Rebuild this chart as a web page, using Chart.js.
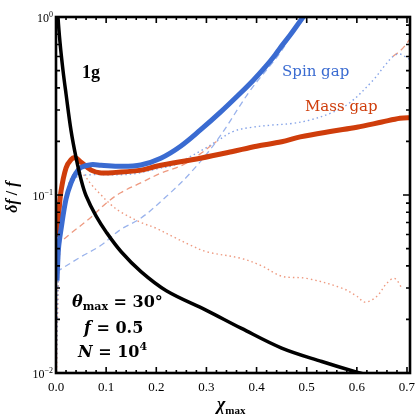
<!DOCTYPE html>
<html>
<head>
<meta charset="utf-8">
<script src="https://cdn.jsdelivr.net/npm/chart.js@4.4.0/dist/chart.umd.min.js"></script>
<style>
  html, body { margin: 0; padding: 0; background: #fff; }
</style>
</head>
<body>
<canvas id="chart" width="415" height="420"></canvas>
<script>
// tick values
const xTickValues = [0, 0.1, 0.2, 0.3, 0.4, 0.5, 0.6, 0.7];
const yTickValues = [1, 0.1, 0.01];

// black curve (no gap)
const blackX = [0.003, 0.004, 0.008, 0.014, 0.02, 0.03, 0.04, 0.05, 0.06, 0.08, 0.1, 0.13, 0.17, 0.22, 0.3, 0.37, 0.45, 0.53, 0.6, 0.63];
const blackY = [1.25, 1.0, 0.72, 0.5, 0.37, 0.23, 0.162, 0.122, 0.099, 0.076, 0.062, 0.048, 0.037, 0.029, 0.0225, 0.0178, 0.0138, 0.0116, 0.0101, 0.0096];

// spin gap
const spinX = [0.002, 0.005, 0.01, 0.02, 0.03, 0.04, 0.05, 0.07, 0.09, 0.13, 0.169, 0.209, 0.2485, 0.288, 0.328, 0.368, 0.394, 0.4175, 0.437, 0.447, 0.467, 0.493, 0.507];
const spinY = [0.033, 0.05, 0.064, 0.095, 0.117, 0.133, 0.143, 0.148, 0.147, 0.145, 0.1475, 0.161, 0.188, 0.232, 0.292, 0.374, 0.443, 0.524, 0.612, 0.67, 0.792, 1.0, 1.12];
const spinDashX = [0.001, 0.05, 0.089, 0.129, 0.169, 0.22, 0.268, 0.322, 0.388, 0.447, 0.48, 0.5];
const spinDashY = [0.037, 0.045, 0.052, 0.064, 0.074, 0.098, 0.133, 0.204, 0.389, 0.63, 0.9, 1.1];
const spinDotX = [0.001, 0.005, 0.01, 0.02, 0.04, 0.07, 0.1, 0.13, 0.16, 0.2, 0.235, 0.26, 0.29, 0.32, 0.354, 0.39, 0.43, 0.47, 0.507, 0.55, 0.586, 0.632, 0.655, 0.672, 0.685, 0.7, 0.71];
const spinDotY = [0.012, 0.04, 0.065, 0.095, 0.125, 0.13, 0.13, 0.13, 0.132, 0.14, 0.147, 0.16, 0.178, 0.2, 0.228, 0.24, 0.247, 0.252, 0.264, 0.29, 0.33, 0.44, 0.53, 0.6, 0.62, 0.59, 0.57];

// mass gap
const massX = [0.002, 0.005, 0.01, 0.02, 0.03, 0.038, 0.05, 0.07, 0.09, 0.12, 0.17, 0.2, 0.288, 0.35, 0.4, 0.45, 0.487, 0.55, 0.6, 0.65, 0.686, 0.71];
const massY = [0.058, 0.075, 0.105, 0.142, 0.158, 0.162, 0.153, 0.138, 0.133, 0.134, 0.138, 0.145, 0.161, 0.175, 0.188, 0.199, 0.212, 0.228, 0.24, 0.257, 0.27, 0.272];
const massDashX = [0.001, 0.03, 0.07, 0.1, 0.129, 0.169, 0.21, 0.254, 0.29, 0.32, 0.354, 0.39, 0.43, 0.47, 0.507, 0.55, 0.586, 0.632, 0.655, 0.672, 0.685, 0.696, 0.71];
const massDashY = [0.052, 0.061, 0.075, 0.09, 0.103, 0.117, 0.133, 0.148, 0.172, 0.2, 0.228, 0.24, 0.247, 0.252, 0.264, 0.29, 0.33, 0.44, 0.53, 0.6, 0.64, 0.69, 0.78];
const massDotX = [0.001, 0.003, 0.006, 0.012, 0.02, 0.03, 0.042, 0.055, 0.07, 0.09, 0.11, 0.13, 0.17, 0.2, 0.235, 0.27, 0.3, 0.37, 0.41, 0.45, 0.5, 0.57, 0.6, 0.616, 0.64, 0.66, 0.675, 0.69];
const massDotY = [0.009, 0.02, 0.04, 0.07, 0.1, 0.125, 0.135, 0.13, 0.115, 0.1, 0.088, 0.08, 0.07, 0.065, 0.058, 0.052, 0.048, 0.044, 0.04, 0.035, 0.034, 0.03, 0.027, 0.025, 0.027, 0.032, 0.034, 0.03];

const blue = '#3a6bd1';
const red = '#cf3d0b';
const lightBlue = '#86a4e8';
const lightRed = '#ee9a80';

function pts(xs, ys) {
  return xs.map((x, i) => ({ x, y: ys[i] }));
}

function line(data, color, width, dash) {
  return {
    data,
    borderColor: color,
    borderWidth: width,
    borderDash: dash || [],
    borderCapStyle: 'butt',
    pointRadius: 0,
    tension: 0.35,
    clip: 0,
    fill: false,
  };
}

function drawRuns(ctx, x, y, runs) {
  let cx = x;
  for (const r of runs) {
    ctx.font = r.font;
    ctx.fillText(r.t, cx, y + (r.dy || 0));
    cx += ctx.measureText(r.t).width + (r.gap || 0);
  }
}

const serif = '"Liberation Serif", "DejaVu Serif", serif';
const dserif = '"DejaVu Serif", serif';

const framePlugin = {
  id: 'frame',
  afterDatasetsDraw(chart) {
    const ctx = chart.ctx;
    const a = chart.chartArea;
    const xs = chart.scales.x;
    const ys = chart.scales.y;
    ctx.save();
    ctx.strokeStyle = '#000';
    ctx.fillStyle = '#000';

    // ticks, inward on all sides
    ctx.lineWidth = 1.6;
    ctx.beginPath();
    for (let i = 0; i <= 35; i++) {
      const v = i * 0.02;
      const px = xs.getPixelForValue(v);
      const len = i % 5 === 0 ? 6 : 3;
      ctx.moveTo(px, a.bottom); ctx.lineTo(px, a.bottom - len);
      ctx.moveTo(px, a.top); ctx.lineTo(px, a.top + len);
    }
    for (const dec of [0.01, 0.1]) {
      for (let m = 1; m <= 10; m++) {
        const py = ys.getPixelForValue(dec * m);
        const len = (m === 1 || m === 10) ? 7 : 4;
        ctx.moveTo(a.left, py); ctx.lineTo(a.left + len, py);
        ctx.moveTo(a.right, py); ctx.lineTo(a.right - len, py);
      }
    }
    ctx.stroke();

    // frame
    ctx.lineWidth = 2.6;
    ctx.strokeRect(a.left, a.top, a.right - a.left, a.bottom - a.top);

    // x tick labels
    ctx.font = '13px ' + serif;
    ctx.textAlign = 'center';
    ctx.textBaseline = 'alphabetic';
    xTickValues.forEach(v => {
      ctx.fillText(v.toFixed(1), xs.getPixelForValue(v), 391);
    });

    // y tick labels
    ctx.textAlign = 'left';
    yTickValues.forEach(v => {
      const py = ys.getPixelForValue(v);
      const e = Math.round(Math.log10(v));
      const exp = e === 0 ? '0' : '\u2212' + Math.abs(e);
      ctx.font = '12px ' + serif;
      const w1 = ctx.measureText('10').width;
      ctx.font = '8px ' + serif;
      const w2 = ctx.measureText(exp).width;
      const x0 = 53 - w1 - w2;
      ctx.font = '12px ' + serif;
      ctx.fillText('10', x0, py + 5);
      ctx.font = '8px ' + serif;
      ctx.fillText(exp, x0 + w1, py);
    });

    // axis titles
    ctx.save();
    ctx.translate(17, 197);
    ctx.rotate(-Math.PI / 2);
    const bi = 'bold italic 16px ' + serif;
    const b = 'bold 16px ' + serif;
    ctx.font = bi;
    const tw = ctx.measureText('\u03b4f').width + ctx.measureText('f').width;
    ctx.font = b;
    const sw = ctx.measureText(' / ').width;
    drawRuns(ctx, -(tw + sw) / 2, 0, [
      { t: '\u03b4f', font: bi },
      { t: ' / ', font: b },
      { t: 'f', font: bi },
    ]);
    ctx.restore();

    drawRuns(ctx, 217, 410, [
      { t: '\u03c7', font: 'bold italic 18px ' + serif },
      { t: 'max', font: 'bold 11px ' + serif, dy: 4 },
    ]);

    // annotations
    ctx.font = 'bold 18px ' + serif;
    ctx.fillText('1g', 82, 78);

    ctx.fillStyle = blue;
    ctx.font = '15px ' + dserif;
    ctx.fillText('Spin gap', 282, 76);
    ctx.fillStyle = red;
    ctx.fillText('Mass gap', 305, 111);

    ctx.fillStyle = '#000';
    drawRuns(ctx, 72, 307, [
      { t: '\u03b8', font: 'bold italic 16px ' + dserif },
      { t: 'max', font: 'bold 11px ' + dserif, dy: 3 },
      { t: ' = 30\u00b0', font: 'bold 16px ' + dserif },
    ]);
    drawRuns(ctx, 84, 333, [
      { t: 'f', font: 'bold italic 16px ' + dserif },
      { t: ' = 0.5', font: 'bold 16px ' + dserif },
    ]);
    drawRuns(ctx, 78, 357, [
      { t: 'N', font: 'bold italic 16px ' + dserif },
      { t: ' = 10', font: 'bold 16px ' + dserif },
      { t: '4', font: 'bold 11px ' + dserif, dy: -7 },
    ]);
    ctx.restore();
  },
};

// the stretch of the mass-gap dashed curve that lies under the spin-gap dotted one
const massDash = line(pts(massDashX, massDashY), lightRed, 1.3, [6, 4]);
massDash.segment = {
  borderColor: c => (c.p0.parsed.x >= 0.32 && c.p1.parsed.x <= 0.672) ? 'rgba(0,0,0,0)' : lightRed,
};

new Chart(document.getElementById('chart'), {
  type: 'line',
  data: {
    datasets: [
      line(pts(blackX, blackY), '#000', 3.5),
      line(pts(spinX, spinY), blue, 5),
      line(pts(massX, massY), red, 5),
      line(pts(spinDotX, spinDotY), lightBlue, 1.4, [1.5, 3]),
      massDash,
      line(pts(spinDashX, spinDashY), '#9ab3ec', 1.3, [6, 4]),
      line(pts(massDotX, massDotY), lightRed, 1.4, [1.5, 3]),
    ],
  },
  options: {
    responsive: false,
    animation: false,
    devicePixelRatio: 1,
    layout: { padding: { top: 17, right: 5, left: 0, bottom: 0 } },
    plugins: { legend: { display: false }, tooltip: { enabled: false } },
    scales: {
      x: {
        type: 'linear',
        min: 0,
        max: 0.706,
        ticks: { display: false },
        grid: { display: false },
        border: { display: false },
        afterFit(s) { s.height = 47; },
      },
      y: {
        type: 'logarithmic',
        min: 0.01,
        max: 1,
        ticks: { display: false },
        grid: { display: false },
        border: { display: false },
        afterFit(s) { s.width = 56; },
      },
    },
  },
  plugins: [framePlugin],
});
</script>
</body>
</html>
